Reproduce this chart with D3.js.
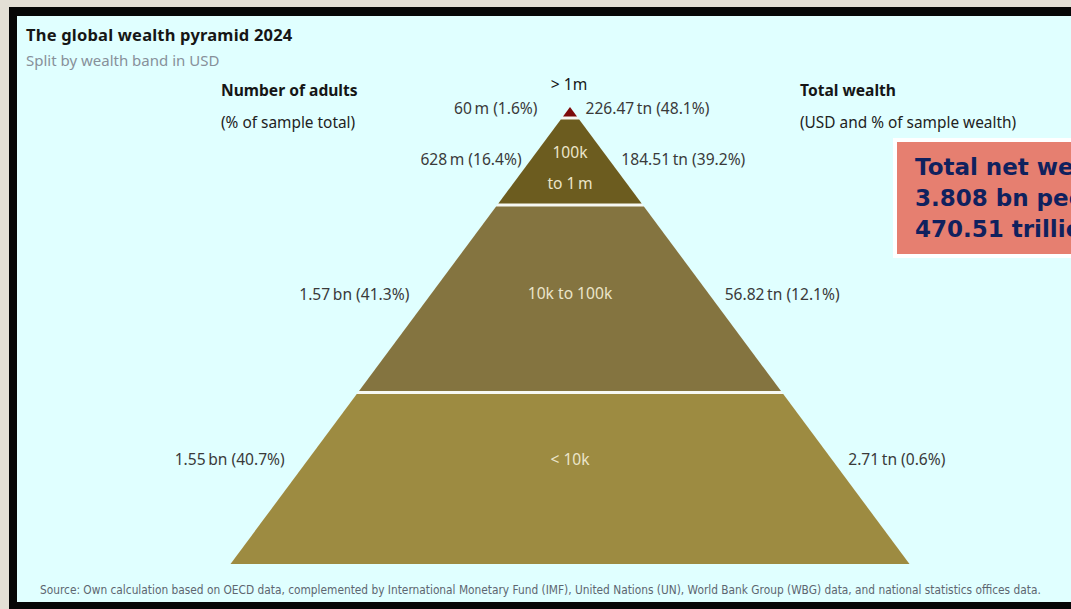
<!DOCTYPE html>
<html>
<head>
<meta charset="utf-8">
<script src="https://cdn.jsdelivr.net/npm/d3@7"></script>
<style>
  html, body { margin: 0; padding: 0; background: #e3dfd5; }
  svg { display: block; }
</style>
</head>
<body>
<svg id="chart" width="1071" height="609"></svg>
<script>
// Wealth bands, top of the pyramid first
const bands = ["> 1m", "100k to 1m", "10k to 100k", "< 10k"];
// Adults per band, millions
const adults = [60, 628, 1570, 1550];
const adultsText = ["60\u2009m (1.6%)", "628\u2009m (16.4%)", "1.57\u2009bn (41.3%)", "1.55\u2009bn (40.7%)"];
// Total wealth per band, USD trillions
const wealth = [226.47, 184.51, 56.82, 2.71];
const wealthText = ["226.47\u2009tn (48.1%)", "184.51\u2009tn (39.2%)", "56.82\u2009tn (12.1%)", "2.71\u2009tn (0.6%)"];
// Text shown inside each tier (one entry per line)
const innerText = [[], ["100k", "to 1\u2009m"], ["10k to 100k"], ["< 10k"]];
const bandColors = ["#7b0b0b", "#6c5c1f", "#847440", "#9d8b41"];

const totalLines = ["Total net wealth", "3.808 bn people", "470.51 trillion USD"];
const sourceNote = "Source: Own calculation based on OECD data, complemented by International Monetary Fund (IMF), United Nations (UN), World Bank Group (WBG) data, and national statistics offices data.";

const svg = d3.select("#chart");
const sans = "'Noto Sans', 'Open Sans', sans-serif";

// frame and panel
svg.append("rect").attr("x", 9).attr("y", 7).attr("width", 1080).attr("height", 610).attr("fill", "#060606");
svg.append("rect").attr("x", 17).attr("y", 16).attr("width", 1070).attr("height", 586).attr("fill", "#e0ffff");

// titles
svg.append("text").attr("x", 26).attr("y", 41).text("The global wealth pyramid 2024")
  .attr("font-family", sans).attr("font-size", 16.5).attr("font-weight", 700)
  .attr("letter-spacing", 0.2).attr("fill", "#161616");
svg.append("text").attr("x", 26).attr("y", 66).text("Split by wealth band in USD")
  .attr("font-family", sans).attr("font-size", 15).attr("fill", "#87909a");

const heads = [
  { x: 221, t1: "Number of adults", t2: "(% of sample total)" },
  { x: 800, t1: "Total wealth", t2: "(USD and % of sample wealth)" }
];
heads.forEach(h => {
  svg.append("text").attr("x", h.x).attr("y", 96).text(h.t1)
    .attr("font-family", sans).attr("font-size", 15.6).attr("font-weight", 700).attr("fill", "#161616");
  svg.append("text").attr("x", h.x).attr("y", 128).text(h.t2)
    .attr("font-family", sans).attr("font-size", 15.4).attr("fill", "#222");
});

// pyramid geometry: tier boundaries follow cumulative adult counts
const cx = 570, apexY = 107, baseY = 564, halfBase = 339.5;
const slope = halfBase / (baseY - apexY);
const cum = d3.cumsum(adults);
const total = cum[cum.length - 1];
const y = d3.scalePow().exponent(0.9).domain([0, total]).range([apexY, baseY]);
const half = yy => (yy - apexY) * slope;

const tiers = adults.map((a, i) => ({
  i,
  y0: y(i === 0 ? 0 : cum[i - 1]),
  y1: y(cum[i])
}));

const gap = 1.5;
// white underlay shows through the gaps between tiers
svg.append("path")
  .attr("d", d3.line()([[cx, apexY], [cx + halfBase, baseY], [cx - halfBase, baseY]]) + "Z")
  .attr("fill", "#f6f8f3");

svg.append("g").selectAll("path").data(tiers).join("path")
  .attr("d", d => {
    const t = d.i === 0 ? d.y0 : d.y0 + gap;
    const b = d.i === tiers.length - 1 ? d.y1 : d.y1 - gap;
    return d3.line()([[cx - half(t), t], [cx + half(t), t], [cx + half(b), b], [cx - half(b), b]]) + "Z";
  })
  .attr("fill", d => bandColors[d.i]);

// side labels: baseline and distance from the pyramid edge
const labelBase = [114, 165, 300, 465];
const offLeft = [31, 9, 21, 23];
const offRight = [14, 12, 15, 16];
const labelFont = 15.6;

tiers.forEach(d => {
  const by = labelBase[d.i];
  const my = by - 5;
  svg.append("text").attr("x", cx - half(my) - offLeft[d.i]).attr("y", by)
    .attr("text-anchor", "end").text(adultsText[d.i])
    .attr("font-family", sans).attr("font-size", labelFont).attr("fill", "#3a3a3a");
  svg.append("text").attr("x", cx + half(my) + offRight[d.i]).attr("y", by)
    .attr("text-anchor", "start").text(wealthText[d.i])
    .attr("font-family", sans).attr("font-size", labelFont).attr("fill", "#3a3a3a");
});

// band name above the apex
svg.append("text").attr("x", cx - 1).attr("y", 90).attr("text-anchor", "middle").text(bands[0])
  .attr("font-family", sans).attr("font-size", 15.6).attr("fill", "#161616");

// names inside the tiers
const innerBase = [[], [158, 189], [299], [465]];
innerText.forEach((lines, i) => {
  lines.forEach((t, k) => {
    svg.append("text").attr("x", cx).attr("y", innerBase[i][k]).attr("text-anchor", "middle").text(t)
      .attr("font-family", sans).attr("font-size", 15.6).attr("fill", "#ebe5ca");
  });
});

// totals box
svg.append("rect").attr("x", 893).attr("y", 138).attr("width", 200).attr("height", 120).attr("fill", "#ffffff");
svg.append("rect").attr("x", 897).attr("y", 142).attr("width", 200).attr("height", 112).attr("fill", "#e67f70");
totalLines.forEach((t, k) => {
  svg.append("text").attr("x", 915).attr("y", 175 + k * 31).text(t)
    .attr("font-family", "'DejaVu Sans', sans-serif").attr("font-size", 23).attr("font-weight", 700)
    .attr("fill", "#10215e");
});

// source note
svg.append("text").attr("x", 40).attr("y", 594).text(sourceNote)
  .attr("font-family", "'Liberation Sans Narrow', 'DejaVu Sans Condensed', sans-serif")
  .attr("font-size", 11.8).attr("fill", "#5d6670");
</script>
</body>
</html>
